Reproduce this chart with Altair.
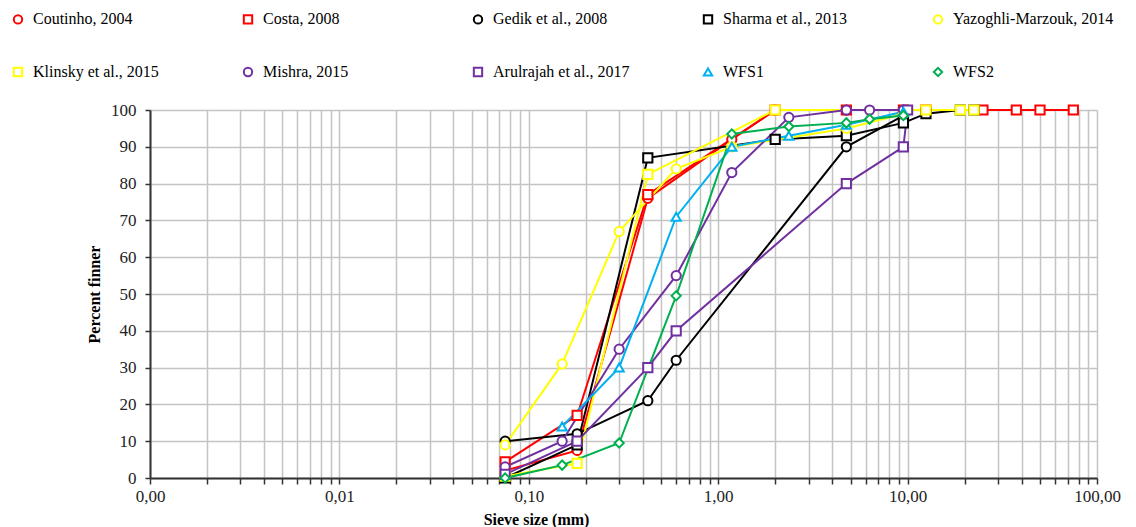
import altair as alt
import pandas as pd

series_names = ["Coutinho, 2004", "Costa, 2008", "Gedik et al., 2008", "Sharma et al., 2013",
                "Yazoghli-Marzouk, 2014", "Klinsky et al., 2015", "Mishra, 2015",
                "Arulrajah et al., 2017", "WFS1", "WFS2"]
series_colors = ["#FF0000", "#FF0000", "#000000", "#000000", "#FFFF00", "#FFFF00",
                 "#7030A0", "#7030A0", "#00B0F0", "#00B050"]
series_shapes = ["circle", "square", "circle", "square", "circle", "square",
                 "circle", "square", "triangle-up", "diamond"]

coutinho_x = [0.075, 0.18, 0.425, 1.18, 2.0, 4.75]
coutinho_y = [2, 7.5, 76, 92, 100, 100]
costa_x = [0.075, 0.18, 0.425, 2.0, 4.75, 9.5, 12.5, 25, 37.5, 50, 75]
costa_y = [4.4, 17, 77, 100, 100, 100, 100, 100, 100, 100, 100]
gedik_x = [0.075, 0.18, 0.425, 0.6, 4.75, 9.5]
gedik_y = [10, 12, 21, 32, 90, 98.5]
sharma_x = [0.075, 0.18, 0.425, 2.0, 4.75, 9.5, 12.5, 19, 22.4]
sharma_y = [0, 9, 87, 92, 93, 96.5, 99, 100, 100]
yazoghli_x = [0.075, 0.15, 0.3, 0.6, 1.18, 4.75, 9.5]
yazoghli_y = [9, 31, 67, 84, 90, 95, 99]
klinsky_x = [0.075, 0.18, 0.425, 2.0, 12.5, 19, 22.4]
klinsky_y = [0.5, 4, 82.5, 100, 100, 100, 100]
mishra_x = [0.075, 0.15, 0.3, 0.6, 1.18, 2.36, 4.75, 6.3, 9.5]
mishra_y = [3, 10, 35, 55, 83, 98, 100, 100, 100]
arulrajah_x = [0.075, 0.18, 0.425, 0.6, 4.75, 9.5, 10]
arulrajah_y = [1, 10, 30, 40, 80, 90, 100]
wfs1_x = [0.15, 0.3, 0.6, 1.18, 2.36, 4.75, 9.5]
wfs1_y = [14, 30, 71, 90, 93, 96, 99.5]
wfs2_x = [0.075, 0.15, 0.3, 0.6, 1.18, 2.36, 4.75, 6.3, 9.5]
wfs2_y = [0, 3.5, 9.5, 49.5, 93.5, 95.5, 96.5, 97.5, 98.5]

all_x = [coutinho_x, costa_x, gedik_x, sharma_x, yazoghli_x, klinsky_x,
         mishra_x, arulrajah_x, wfs1_x, wfs2_x]
all_y = [coutinho_y, costa_y, gedik_y, sharma_y, yazoghli_y, klinsky_y,
         mishra_y, arulrajah_y, wfs1_y, wfs2_y]

rows = []
for name, xs, ys in zip(series_names, all_x, all_y):
    for x, y in zip(xs, ys):
        rows.append({"series": name, "size": x, "pct": y})
df = pd.DataFrame(rows)

x_tick_values = [k * 10.0 ** d for d in range(-3, 2) for k in range(1, 10)] + [100.0]
y_tick_values = list(range(0, 101, 10))

color_scale = alt.Scale(domain=series_names, range=series_colors)
shape_scale = alt.Scale(domain=series_names, range=series_shapes)

legend = alt.Legend(
    title=None, orient="none", legendX=-140, legendY=-99, columns=5, direction="horizontal",
    gridAlign="all", columnPadding=45, rowPadding=35, labelFont="Liberation Serif",
    labelFontSize=16, labelColor="black", symbolSize=70, symbolStrokeWidth=2,
    symbolFillColor="white", labelLimit=300, labelOffset=7,
)

label_expr = ("abs(log(datum.value)/LN10 - round(log(datum.value)/LN10)) < 0.0001 ? "
              "replace(format(datum.value, '.2f'), '.', ',') : ''")

x_enc = alt.X(
    "size:Q",
    scale=alt.Scale(type="log", domain=[0.001, 100], nice=False),
    axis=alt.Axis(values=x_tick_values, labelExpr=label_expr, title="Sieve size (mm)",
                  titleX=386, titleY=41, titleBaseline="middle", titleAlign="center",
                  tickSize=6, labelPadding=4, labelOverlap=False, labelFlush=False),
)
y_enc = alt.Y(
    "pct:Q",
    scale=alt.Scale(domain=[0, 100], nice=False),
    axis=alt.Axis(values=y_tick_values, title="Percent finner", titleX=-56, titleY=184,
                  titleBaseline="middle", titleAlign="center", titleAngle=270,
                  tickSize=5, labelPadding=9),
)

base = alt.Chart(df)
lines = base.mark_line(strokeWidth=2).encode(
    x=x_enc, y=y_enc,
    stroke=alt.Stroke("series:N", scale=color_scale, legend=legend, sort=series_names),
    detail="series:N",
)
points = base.mark_point(filled=True, fill="white", size=85, strokeWidth=2, opacity=1).encode(
    x=x_enc, y=y_enc,
    stroke=alt.Stroke("series:N", scale=color_scale, legend=legend, sort=series_names),
    shape=alt.Shape("series:N", scale=shape_scale, legend=legend, sort=series_names),
)

chart = alt.layer(lines, points).properties(
    width=947, height=368,
    background="white",
    autosize=alt.AutoSizeParams(type="none"),
    padding={"left": 150, "top": 110, "right": 39, "bottom": 49},
).configure_view(stroke=None).configure_axis(
    domainColor="#333333", domainWidth=2, tickColor="#333333", tickWidth=1.5,
    gridColor="#C4C4C4", gridWidth=1.5,
    labelFont="Liberation Serif", labelFontSize=17, labelColor="#222222",
    titleFont="Liberation Serif", titleFontSize=16, titleFontWeight="bold", titleColor="black",
)

chart.save("out.html", embed_options={"renderer": "svg", "actions": False})
